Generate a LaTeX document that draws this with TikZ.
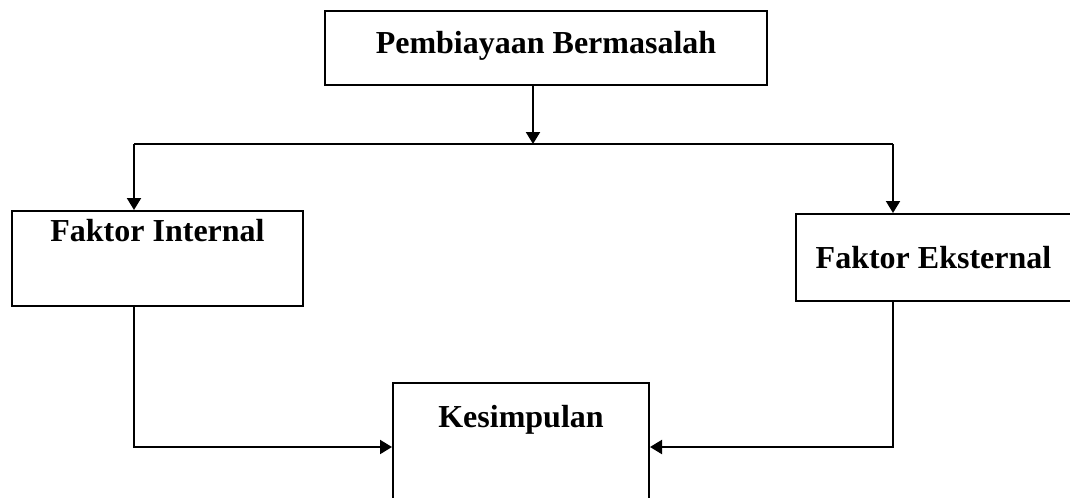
\documentclass[tikz,border=0pt]{standalone}
\usepackage{fontspec}
\setmainfont{Liberation Serif}
\usetikzlibrary{arrows.meta}

\begin{document}
\begin{tikzpicture}[x=0.75pt, y=-0.75pt, >={Triangle[length=9pt,width=10.5pt]},
	kotak/.style={draw, line width=1.5pt, inner sep=0pt, text height=17pt, font=\bfseries\fontsize{24}{29}\selectfont},
	garis/.style={line width=1.5pt}]
	\useasboundingbox (0,0) rectangle (1070,497);
	\node (masalah) [kotak, minimum width=331.5pt, minimum height=55.5pt, text depth=8.1pt] at (546,48) {Pembiayaan Bermasalah};
	\node (internal) [kotak, minimum width=218.25pt, minimum height=71.25pt, text depth=42.6pt] at (157.5,258.5) {Faktor Internal};
	\node (eksternal) [kotak, minimum width=206.25pt, minimum height=65.25pt, text depth=0.6pt] at (933.5,257.5) {Faktor Eksternal};
	\node (simpulan) [kotak, minimum width=192pt, minimum height=96pt, text depth=45.6pt] at (521,447) {Kesimpulan};
	
	\coordinate (cabang) at (533,144);
	\coordinate (kiri) at (134,144);
	\coordinate (kanan) at (893,144);
	
	\draw[garis,->] (masalah.south -| cabang) -- (cabang);
	\draw[garis] (kiri) -- (kanan);
	\draw[garis,->] (kiri) -- (kiri |- internal.north);
	\draw[garis,->] (kanan) -- (kanan |- eksternal.north);
	\draw[garis,->] (internal.south -| kiri) |- (simpulan.west);
	\draw[garis,->] (eksternal.south -| kanan) |- (simpulan.east);
\end{tikzpicture}
\end{document}
